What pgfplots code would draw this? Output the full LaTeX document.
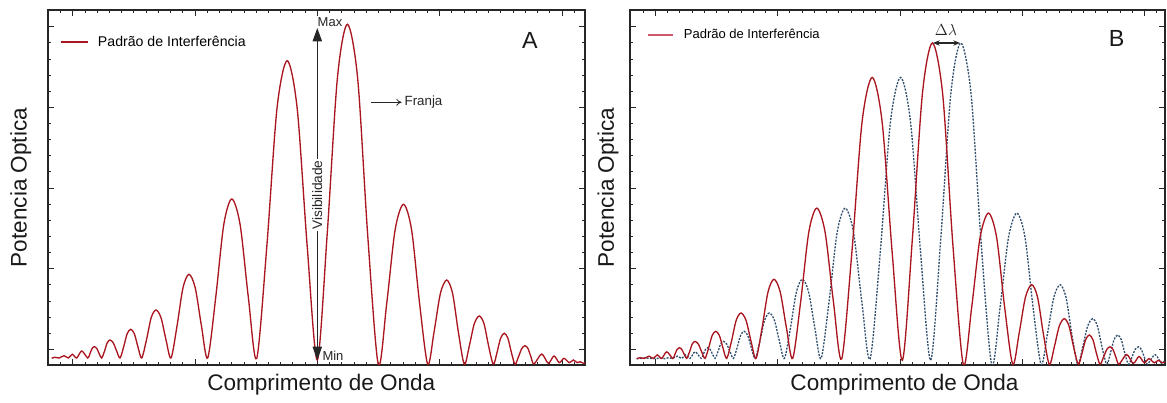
\documentclass[border=0pt]{standalone}
\usepackage{pgfplots}
\pgfplotsset{compat=1.18}
\usepackage{pgfplotstable}
\usepackage{fontspec}
\setmainfont{Liberation Sans}
\usetikzlibrary{arrows.meta}
\definecolor{curvered}{RGB}{170,22,32}
\definecolor{curveblue}{RGB}{50,80,110}
\definecolor{legpink}{RGB}{205,90,105}

\pgfplotstableread{
x y
3.7 6.7
7 7.7
11.3 7
16 9.3
20.3 7
24.3 10.7
28.7 7
33.7 14
39.7 7
41.9 11.29
44.1 16.49
46.3 18.3
48.8 16.49
51.2 11.29
53.7 7
56.5 13.84
59.2 22.12
62 25
65.3 22.12
68.7 13.84
72 7
75.6 17.91
79.1 31.11
82.7 35.7
86.4 31.11
90.0 17.91
93.7 7
98.5 25.24
103.2 47.32
108 55
113.0 47.32
118.0 25.24
123 7
129 38.81
135 77.31
141 90.7
147.2 77.31
153.5 38.81
159.7 7
167.7 67.42
175.8 140.56
183.8 166
192.1 140.48
200.4 67.11
208.7 6.5
218.9 119.66
229.0 256.65
239.2 304.3
249.2 256.41
259.2 118.73
269.3 5
279.3 132.57
289.4 286.99
299.4 340.7
309.7 286.27
319.7 129.78
330.3 0.5
338.7 61.38
347.1 135.07
355.5 160.7
363.6 135.1
371.6 61.5
379.7 0.7
386.0 32.73
392.4 71.51
398.7 85
404.6 71.51
410.4 32.73
416.3 0.7
421.3 19.05
426.3 41.27
431.3 49
436.0 41.27
440.6 19.05
445.3 0.7
449.0 12.48
452.6 26.74
456.3 31.7
459.9 26.74
463.4 12.48
467 0.7
470.3 7.77
473.7 16.32
477 19.3
480 16.37
483 7.95
486 1
493.7 11
500.3 1.7
506 9
511.3 2.3
516 6.7
521.3 2.3
525.3 5
529.3 2.3
532 3.3
535.3 1.7
537 2
}\dataA

\pgfplotstableread{
x y
6.7 6.3
10 7.3
14.3 6.6
19 8.8
23.3 6.6
27.3 10.1
31.7 6.6
36.7 13.2
42.7 6.6
44.9 10.67
47.1 15.58
49.3 17.3
51.8 15.58
54.2 10.67
56.7 6.6
59.5 13.08
62.2 20.9
65 23.6
68.3 20.9
71.7 13.08
75 6.6
78.6 16.92
82.1 29.4
85.7 33.7
89.4 29.4
93.0 16.92
96.7 6.6
101.5 23.85
106.2 44.72
111 52.0
116.0 44.72
121.0 23.85
126 6.6
132 36.68
138 73.06
144 85.7
150.2 73.06
156.5 36.68
162.7 6.6
170.7 63.71
178.8 132.83
186.8 156.9
195.1 132.75
203.4 63.42
211.7 6.1
221.9 113.08
232.0 242.53
242.2 287.6
252.2 242.31
262.2 112.2
272.3 4.7
282.3 125.28
292.4 271.21
302.4 322.0
312.7 270.53
322.7 122.64
333.3 0.5
341.7 58.0
350.1 127.64
358.5 151.9
366.6 127.67
374.6 58.12
382.7 0.7
389.0 30.93
395.4 67.58
401.7 80.3
407.6 67.58
413.4 30.93
419.3 0.7
424.3 18.0
429.3 39.0
434.3 46.3
439.0 39.0
443.6 18.0
448.3 0.7
452.0 11.79
455.6 25.27
459.3 30.0
462.9 25.27
466.4 11.79
470 0.7
473.3 7.34
476.7 15.42
480 18.2
483 15.47
486 7.51
489 0.9
496.7 10.4
503.3 1.6
509 8.5
514.3 2.2
519 6.3
524.3 2.2
528.3 4.7
532.3 2.2
535 3.1
}\dataBred

\pgfplotstableread{
x y
6.7 6.3
15 6.9
24 6.4
30 6.8
35.1 6.3
38.4 7.3
42.7 6.6
47.4 8.8
51.7 6.6
55.7 10.1
60.1 6.6
65.1 13.2
71.1 6.6
73.3 10.67
75.5 15.58
77.7 17.3
80.2 15.58
82.6 10.67
85.1 6.6
87.9 13.08
90.6 20.9
93.4 23.6
96.7 20.9
100.1 13.08
103.4 6.6
107.0 16.92
110.5 29.4
114.1 33.7
117.8 29.4
121.4 16.92
125.1 6.6
129.9 23.85
134.6 44.72
139.4 52.0
144.4 44.72
149.4 23.85
154.4 6.6
160.4 36.68
166.4 73.06
172.4 85.7
178.6 73.06
184.9 36.68
191.1 6.6
199.1 63.71
207.2 132.83
215.2 156.9
223.5 132.75
231.8 63.42
240.1 6.1
250.3 113.08
260.4 242.53
270.6 287.6
280.6 242.31
290.6 112.2
300.7 4.7
310.7 125.28
320.8 271.21
330.8 322.0
341.1 270.53
351.1 122.64
361.7 0.5
370.1 58.0
378.5 127.64
386.9 151.9
395.0 127.67
403.0 58.12
411.1 0.7
417.4 30.93
423.8 67.58
430.1 80.3
436.0 67.58
441.8 30.93
447.7 0.7
452.7 18.0
457.7 39.0
462.7 46.3
467.4 39.0
472.0 18.0
476.7 0.7
480.4 11.79
484.0 25.27
487.7 30.0
491.3 25.27
494.8 11.79
498.4 0.7
501.7 7.34
505.1 15.42
508.4 18.2
511.4 15.47
514.4 7.51
517.4 0.9
525.1 10.4
531.7 1.6
537.4 8.5
}\dataBblue

\pgfplotsset{
  panel/.style={
    scale only axis, anchor=south west,
    height=266.25pt,
    xmin=0, ymin=0, ymax=355,
    clip mode=individual,
    axis line style={line width=1.1pt, black!85},
    tick align=inside,
    major tick length=4.5pt, minor tick length=2.2pt,
    every tick/.style={black!85, line width=0.6pt},
    xticklabels={}, yticklabels={},
    ytick={15.7,96.35,177,257.65,338.3},
    minor ytick={15.7,31.83,...,340},
    xlabel={Comprimento de Onda}, ylabel={Potencia Optica},
    label style={font=\fontsize{16.9}{19}\selectfont, text=black!90},
    legend style={draw=none, fill=none, anchor=west, inner sep=0pt,
      nodes={inner sep=0pt, anchor=west}, column sep=7pt},
  }
}

\begin{document}
\begin{tikzpicture}
\useasboundingbox (0,0) rectangle (875.25pt,302.25pt);

% Panel A
\begin{axis}[panel, at={(36pt,28.5pt)}, width=402.75pt, xmax=537,
  xtick={24.7,147,269.3,391.6,513.9},
  minor xtick={12.47,24.7,...,537},
  xlabel style={at={(axis description cs:0.509,-0.0563)}, anchor=center},
  ylabel style={at={(axis description cs:-0.0508,0.5)}, anchor=center},
  legend style={at={(axis cs:12,323)}, font=\fontsize{10.6}{12}\selectfont},
]
\addplot[curvered, line width=1pt, smooth,
  legend image code/.code={\draw[curvered, line width=0.8pt] (0pt,0pt) -- (20.5pt,0pt);}]
  table[x=x, y=y] {\dataA};
\addlegendentry{Padrão de Interferência}
\draw[{Triangle[length=10pt,width=7pt]}-{Triangle[length=10pt,width=7pt]}, line width=0.8pt, black!85]
  (axis cs:269.3,5) -- (axis cs:269.3,337);
\node[rotate=90, fill=white, inner sep=1pt, font=\fontsize{10.3}{12}\selectfont, text=black!85] at (axis cs:269.3,170) {Visibilidade};
\node[font=\fontsize{9.75}{11}\selectfont, text=black!85] at (axis cs:282,343.3) {Max};
\node[font=\fontsize{9.75}{11}\selectfont, text=black!85] at (axis cs:285,9) {Min};
\draw[-{To[length=4pt,width=5pt]}, line width=0.6pt, black!85] (axis cs:323,262.7) -- (axis cs:353.7,262.7);
\node[anchor=west, inner sep=1pt, font=\fontsize{10}{11}\selectfont, text=black!85] at (axis cs:355,262.7) {Franja};
\node[font=\fontsize{17.5}{20}\selectfont, text=black!90] at (axis cs:482,325) {A};
\end{axis}

% Panel B
\begin{axis}[panel, at={(472.5pt,28.5pt)}, width=401.25pt, xmax=535,
  xtick={25.3,147.6,269.9,392.2,514.5},
  minor xtick={13.07,25.3,...,535},
  xlabel style={at={(axis description cs:0.513,-0.0563)}, anchor=center},
  ylabel style={at={(axis description cs:-0.041,0.5)}, anchor=center},
  legend style={at={(axis cs:16,330)}, font=\fontsize{9.75}{11}\selectfont},
]
\addplot[curveblue, line width=1pt, dash pattern=on 1.5pt off 1pt, smooth, forget plot] table[x=x, y=y] {\dataBblue};
\addplot[curvered, line width=1pt, smooth,
  legend image code/.code={\draw[legpink, line width=2.2pt] (0pt,0pt) -- (19pt,0pt);}]
  table[x=x, y=y] {\dataBred};
\addlegendentry{Padrão de Interferência}
\draw[{Stealth[length=5pt,width=4pt]}-{Stealth[length=5pt,width=4pt]}, line width=0.8pt, black!85]
  (axis cs:303,322) -- (axis cs:330,322);
\node[font=\fontsize{11.5}{13}\selectfont, text=black!85] at (axis cs:316,335) {$\Delta\lambda$};
\node[font=\fontsize{17.5}{20}\selectfont, text=black!90] at (axis cs:486.7,326.7) {B};
\end{axis}
\end{tikzpicture}
\end{document}
